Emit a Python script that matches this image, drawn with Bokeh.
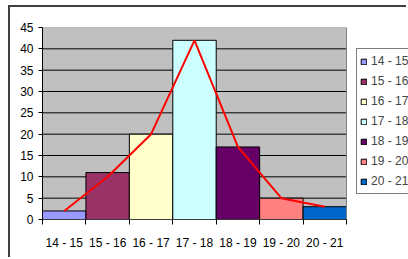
from bokeh.plotting import figure
from bokeh.models import (ColumnDataSource, FixedTicker, Legend, LegendItem, Range1d)
from bokeh.embed import file_html
from bokeh.resources import INLINE

categories = ["14 - 15", "15 - 16", "16 - 17", "17 - 18", "18 - 19", "19 - 20", "20 - 21"]
bar_values = [2, 11, 20, 42, 17, 5, 3]
line_values = [2, 10, 20, 42, 17, 5, 3]
bar_colors = ["#9999FF", "#993366", "#FFFFCC", "#CCFFFF", "#660066", "#FF8080", "#0066CC"]
y_ticks = [0, 5, 10, 15, 20, 25, 30, 35, 40, 45]

n = len(categories)
centers = [i + 0.5 for i in range(n)]
edges = list(range(n + 1))
y_max = y_ticks[-1]

FONT = "Liberation Sans"

# frame spans to the canvas' right edge so the legend (inside) is not clipped early
FRAME_W = 366
AREA_W = 304
p = figure(width=398, height=252, output_backend="svg", toolbar_location=None,
           x_range=Range1d(0, n * FRAME_W / AREA_W), y_range=Range1d(0, y_max),
           min_border_left=32, min_border_right=0, min_border_top=20, min_border_bottom=40)
p.styles = {"margin-left": "8px", "margin-top": "5px",
            "border-left": "2px solid #404040", "border-top": "2px solid #404040"}
p.background_fill_color = "white"
p.border_fill_color = "white"
p.outline_line_color = None

# plot area
p.quad(left=[0], right=[n], bottom=[0], top=[y_max], fill_color="#C0C0C0", line_color=None)
grid_y = y_ticks[1:-1]
p.segment(x0=[0] * len(grid_y), x1=[n] * len(grid_y), y0=grid_y, y1=grid_y,
          line_color="black", line_width=1)

src = ColumnDataSource(dict(x=centers, top=bar_values, color=bar_colors, cat=categories))
bars = p.vbar(x="x", top="top", width=1.0, source=src, fill_color="color",
              line_color="black", line_width=1)
p.line(centers, line_values, line_color="red", line_width=2)

# plot area border (top / right) and x axis line
p.quad(left=[0], right=[n], bottom=[0], top=[y_max], fill_color=None,
       line_color="#808080", line_width=1)
p.segment(x0=[0], x1=[n], y0=[0], y1=[0], line_color="black", line_width=1)

# axes
p.xaxis.ticker = FixedTicker(ticks=centers, minor_ticks=edges)
p.xaxis.major_label_overrides = {c: lab for c, lab in zip(centers, categories)}
p.xaxis.axis_line_color = None
p.xaxis.major_tick_line_color = None
p.xaxis.major_tick_out = 0
p.xaxis.major_tick_in = 0
p.xaxis.minor_tick_out = 5
p.xaxis.minor_tick_in = 0
p.xaxis.minor_tick_line_color = "black"
p.xaxis.major_label_standoff = 11
p.yaxis.ticker = FixedTicker(ticks=y_ticks)
p.yaxis.axis_line_color = "black"
p.yaxis.major_tick_line_color = "black"
p.yaxis.major_tick_out = 4
p.yaxis.major_tick_in = 0
p.yaxis.minor_tick_line_color = None
p.yaxis.major_label_standoff = 5
for ax in (p.xaxis, p.yaxis):
    ax.major_label_text_font = FONT
    ax.major_label_text_font_size = "12px"
    ax.major_label_text_color = "black"

p.xgrid.grid_line_color = None
p.ygrid.grid_line_color = None

items = [LegendItem(label=c, renderers=[bars], index=i) for i, c in enumerate(categories)]
legend = Legend(items=items, location=(314, 25), orientation="vertical")
legend.label_text_font = FONT
legend.label_text_font_size = "12px"
legend.glyph_width = 7
legend.glyph_height = 7
legend.label_standoff = 4
legend.label_height = 18
legend.spacing = 2
legend.padding = 3
legend.margin = 0
legend.border_line_color = "black"
legend.border_line_width = 1
legend.background_fill_color = "white"
legend.background_fill_alpha = 1
p.add_layout(legend)

open("out.html", "w").write(file_html(p, INLINE))
